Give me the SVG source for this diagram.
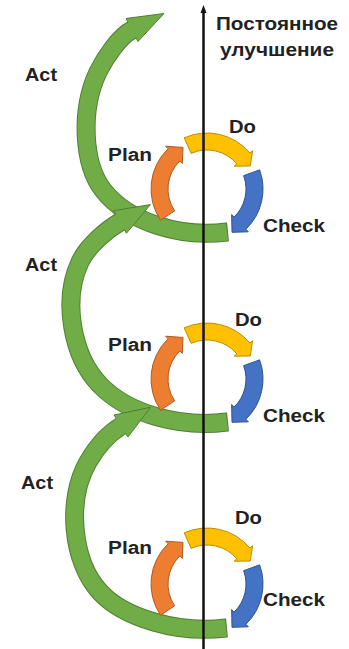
<svg xmlns="http://www.w3.org/2000/svg" width="349" height="649" viewBox="0 0 349 649">
<style>
.g-out{fill:none;stroke:#507E32;stroke-width:19}
.g-in{fill:none;stroke:#70AD47;stroke-width:17}
.g-head{fill:#70AD47;stroke:#507E32;stroke-width:1}
.plan{fill:#ED7D31;stroke:#AE5A21;stroke-width:1}
.do{fill:#FFC000;stroke:#BC8C00;stroke-width:1}
.check{fill:#4472C4;stroke:#2F528F;stroke-width:1}
.lbl{font-family:"Liberation Sans",Arial,sans-serif;font-weight:bold;font-size:18px;fill:#222}
.ttl{font-family:"Liberation Sans",Arial,sans-serif;font-weight:bold;font-size:18px;fill:#222;text-anchor:middle}
.axis{stroke:#111;stroke-width:2.5;fill:none}
</style>
<defs>
<path id="planArc" class="plan" d="M -46.42 31.32 A 56 56 0 0 1 -38.9 -40.28 L -41.33 -42.8 L -24 -41.57 L -24.66 -25.53 L -27.09 -28.05 A 39 39 0 0 0 -32.33 21.81 Z"/>
<path id="doArc" class="do" d="M -22.78 -51.16 A 56 56 0 0 1 42.9 -36 L 45.58 -38.25 L 43.26 -23 L 27.19 -22.82 L 29.87 -25.07 A 39 39 0 0 0 -15.86 -35.63 Z"/>
<path id="checkArc" class="check" d="M 52.62 -19.15 A 56 56 0 0 1 38.9 40.28 L 41.33 42.8 L 25 43.3 L 24.66 25.53 L 27.09 28.05 A 39 39 0 0 0 36.65 -13.34 Z"/>
</defs>
<rect width="349" height="649" fill="#fff"/>

<g id="act1">
<path class="g-out" d="M 228 231.9 L 227 232 C 180 238, 128 222, 103 190 C 83 164, 80 110, 98 72 C 106 56, 120 36, 132 30"/>
<polygon class="g-head" points="137.95,41.56 164,13.5 126.05,18.44"/>
<path class="g-in" d="M 227 232 C 180 238, 128 222, 103 190 C 83 164, 80 110, 98 72 C 106 56, 120 36, 132 30 L 133.8 29.1"/>
<text class="lbl" x="25" y="81" textLength="32" lengthAdjust="spacingAndGlyphs">Act</text>
</g>
<g id="act2">
<path class="g-out" d="M 228 421.9 L 227 422 C 180 428, 128 414, 100 385 C 72 356, 62 300, 80 262 C 88 245, 108 229, 120 222"/>
<polygon class="g-head" points="126.45,233.28 150.4,204.6 113.55,210.72"/>
<path class="g-in" d="M 227 422 C 180 428, 128 414, 100 385 C 72 356, 62 300, 80 262 C 88 245, 108 229, 120 222 L 121.7 221"/>
<text class="lbl" x="25" y="271" textLength="32" lengthAdjust="spacingAndGlyphs">Act</text>
</g>
<g id="act3">
<path class="g-out" d="M 227 627.9 L 226 628 C 178 634, 124 618, 100 592 C 72 562, 66 500, 88 462 C 96 448, 108 434, 121 426"/>
<polygon class="g-head" points="127.93,437.01 150.6,407.3 114.07,414.99"/>
<path class="g-in" d="M 226 628 C 178 634, 124 618, 100 592 C 72 562, 66 500, 88 462 C 96 448, 108 434, 121 426 L 122.7 424.9"/>
<text class="lbl" x="21" y="489" textLength="32" lengthAdjust="spacingAndGlyphs">Act</text>
</g>

<g id="plan1"><use href="#planArc" transform="translate(207,189)"/>
<text class="lbl" x="108" y="161" textLength="44" lengthAdjust="spacingAndGlyphs">Plan</text></g>
<g id="do1"><use href="#doArc" transform="translate(207,189)"/>
<text class="lbl" x="229" y="133" textLength="27" lengthAdjust="spacingAndGlyphs">Do</text></g>
<g id="check1"><use href="#checkArc" transform="translate(207,189)"/>
<text class="lbl" x="263" y="232" textLength="62" lengthAdjust="spacingAndGlyphs">Check</text></g>

<g id="plan2"><use href="#planArc" transform="translate(207,379)"/>
<text class="lbl" x="108" y="351" textLength="44" lengthAdjust="spacingAndGlyphs">Plan</text></g>
<g id="do2"><use href="#doArc" transform="translate(207,379)"/>
<text class="lbl" x="235" y="326" textLength="27" lengthAdjust="spacingAndGlyphs">Do</text></g>
<g id="check2"><use href="#checkArc" transform="translate(207,379)"/>
<text class="lbl" x="263" y="422" textLength="62" lengthAdjust="spacingAndGlyphs">Check</text></g>

<g id="plan3"><use href="#planArc" transform="translate(207,584)"/>
<text class="lbl" x="108" y="554" textLength="44" lengthAdjust="spacingAndGlyphs">Plan</text></g>
<g id="do3"><use href="#doArc" transform="translate(207,584)"/>
<text class="lbl" x="235" y="524" textLength="27" lengthAdjust="spacingAndGlyphs">Do</text></g>
<g id="check3"><use href="#checkArc" transform="translate(207,584)"/>
<text class="lbl" x="263" y="606" textLength="62" lengthAdjust="spacingAndGlyphs">Check</text></g>

<g id="connectors">
<line class="axis" x1="203.5" y1="649" x2="203.5" y2="11"/>
<polygon points="200.5,13 203.5,5 206.5,13" fill="#111"/>
</g>

<g id="title">
<text class="ttl" x="277" y="30" textLength="122" lengthAdjust="spacingAndGlyphs">Постоянное</text>
<text class="ttl" x="277" y="56" textLength="114" lengthAdjust="spacingAndGlyphs">улучшение</text>
</g>
</svg>
